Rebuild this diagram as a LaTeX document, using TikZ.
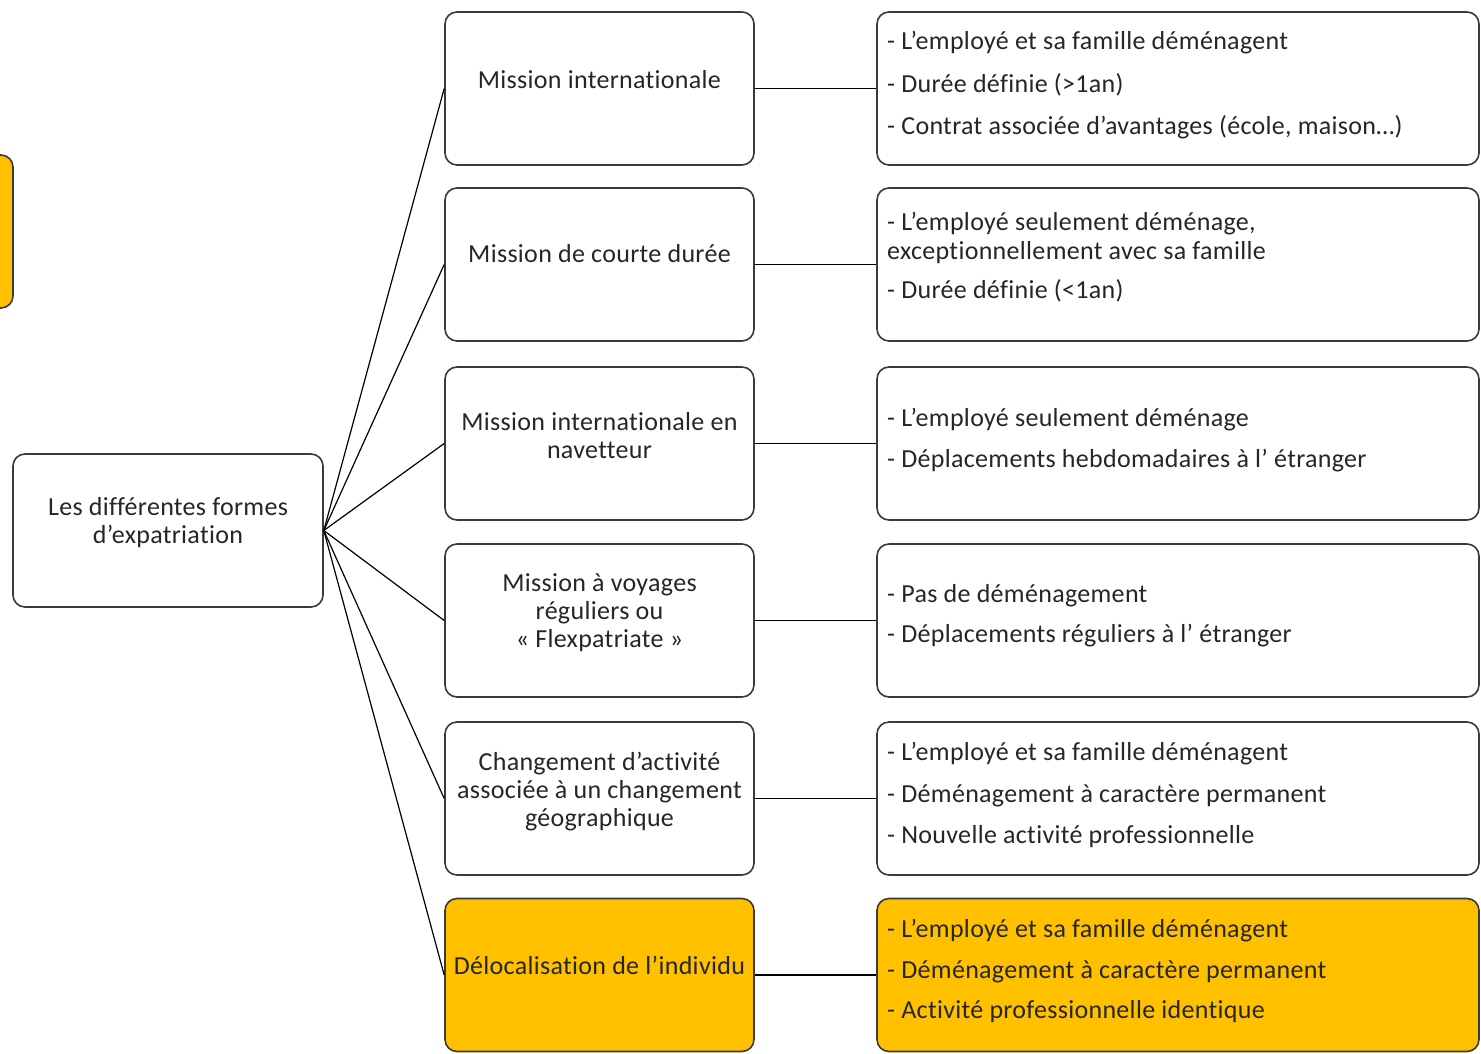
\documentclass[tikz,border=0pt]{standalone}
\usepackage{fontspec}
\setmainfont{Carlito}[LetterSpace=1.2, Ligatures={NoCommon}]
\definecolor{gold}{HTML}{FFC000}
\definecolor{edge}{HTML}{3A3A3A}
\definecolor{ink}{HTML}{262626}
\tikzset{
  box/.style={draw=edge, line width=1.6pt, rounded corners=12pt, fill=white, inner sep=0pt},
  midbox/.style={box, minimum width=309pt, minimum height=153pt},
  rightbox/.style={box, minimum width=602pt, minimum height=153pt},
  hl/.style={fill=gold},
  txt/.style={font=\fontsize{26}{28}\selectfont, text=ink, inner sep=0pt},
  ctxt/.style={txt, align=center},
  ltxt/.style={txt, anchor=west, yshift=-2pt},
  link/.style={draw=black, line width=1.2pt}
}
\begin{document}
\begin{tikzpicture}[x=1pt,y=-1pt]
\useasboundingbox (0,0) rectangle (1481,1053);
\begin{scope}
\clip (0,0) rectangle (1481,1053);
\draw[box, hl] (-40,155) rectangle (13,308);
\end{scope}

% root
\node[box, minimum width=310pt, minimum height=153pt] (root) at (168,530.5) {};
\node[ctxt] (roott) at (168,523) {Les différentes formes\\d’expatriation};

% middle column
\node[midbox] (m1) at (599.5,88.5) {};
\node[midbox] (m2) at (599.5,264.5) {};
\node[midbox] (m3) at (599.5,443.5) {};
\node[midbox] (m4) at (599.5,620.5) {};
\node[midbox] (m5) at (599.5,798.5) {};
\node[midbox, hl] (m6) at (599.5,975) {};

\node[ctxt] (m1t) at (599.5,80) {Mission internationale};
\node[ctxt] (m2t) at (599.5,254) {Mission de courte durée};
\node[ctxt] (m3t) at (599.5,436) {Mission internationale en\\navetteur};
\node[ctxt] (m4t) at (599.5,613) {Mission à voyages\\réguliers ou\\« Flexpatriate »};
\node[ctxt] (m5t) at (599.5,792) {Changement d’activité\\associée à un changement\\géographique};
\node[ctxt] (m6t) at (599.5,965) {Délocalisation de l’individu};

% right column
\node[rightbox] (r1) at (1178,88.5) {};
\node[rightbox] (r2) at (1178,264.5) {};
\node[rightbox] (r3) at (1178,443.5) {};
\node[rightbox] (r4) at (1178,620.5) {};
\node[rightbox] (r5) at (1178,798.5) {};
\node[rightbox, hl] (r6) at (1178,975) {};

\node[ltxt] (r1a) at (887,41) {- L’employé et sa famille déménagent};
\node[ltxt] (r1b) at (887,83) {- Durée définie (>1an)};
\node[ltxt] (r1c) at (887,125) {- Contrat associée d’avantages (école, maison…)};

\node[ltxt] (r2a) at (887,222) {- L’employé seulement déménage,};
\node[ltxt] (r2b) at (887,251) {exceptionnellement avec sa famille};
\node[ltxt] (r2c) at (887,289) {- Durée définie (<1an)};

\node[ltxt] (r3a) at (887,418) {- L’employé seulement déménage};
\node[ltxt] (r3b) at (887,459) {- Déplacements hebdomadaires à l’ étranger};

\node[ltxt] (r4a) at (887,594) {- Pas de déménagement};
\node[ltxt] (r4b) at (887,634) {- Déplacements réguliers à l’ étranger};

\node[ltxt] (r5a) at (887,752) {- L’employé et sa famille déménagent};
\node[ltxt] (r5b) at (887,794) {- Déménagement à caractère permanent};
\node[ltxt] (r5c) at (887,835) {- Nouvelle activité professionnelle};

\node[ltxt] (r6a) at (887,929) {- L’employé et sa famille déménagent};
\node[ltxt] (r6b) at (887,970) {- Déménagement à caractère permanent};
\node[ltxt] (r6c) at (887,1010) {- Activité professionnelle identique};

% connectors
\foreach \i in {1,...,6} {
  \draw[link] (root.east) -- (m\i.west);
  \draw[link] (m\i.east) -- (r\i.west);
}
\end{tikzpicture}
\end{document}
